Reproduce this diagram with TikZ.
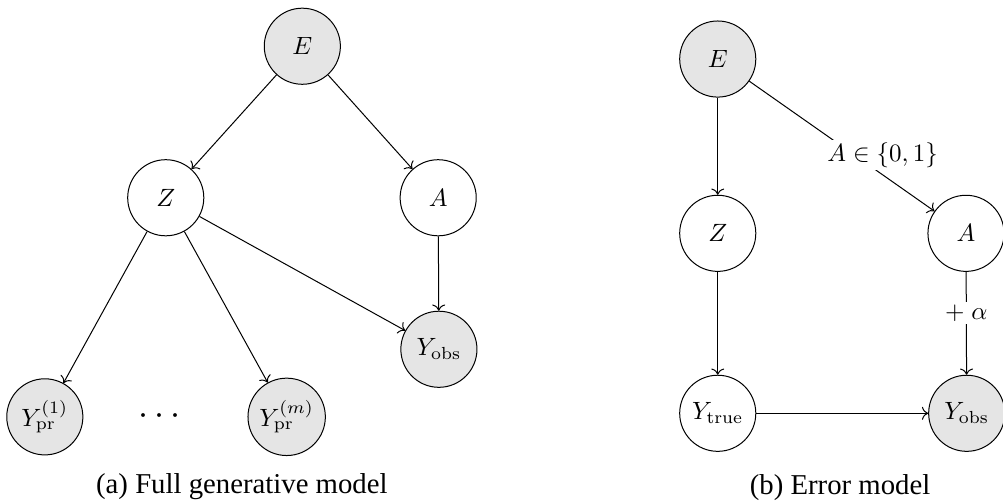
\documentclass[tikz,border=0pt]{standalone}
\usepackage{amsmath}
\usepackage{amssymb}
\usepackage[no-math]{fontspec}
\usepackage{tikz}
\usetikzlibrary{calc, arrows.meta, positioning}
\setmainfont{Liberation Serif}

\begin{document}
\begin{tikzpicture}[
        latent/.style={circle, draw, minimum size=1.07cm, inner sep=2pt},
        observed/.style={latent, fill=black!10},
        lbl/.style={fill=white, inner sep=1pt},
        caption/.style={font=\rmfamily\fontsize{11.5}{13}\selectfont}
    ]
        \useasboundingbox (0,0) rectangle (14.10,-7.07);

        % (a) Full generative model: nodes
        \node[observed] (E1) at (4.25,-0.65) {$E$};
        \node[latent] (Z1) at (2.33,-2.78) {$Z$};
        \node[latent] (A1) at (6.16,-2.78) {$A$};
        \node[observed] (Yobs1) at (6.17,-4.91) {$Y_{\mathrm{obs}}$};
        \node[observed] (Ypr1) at (0.63,-5.86) {$Y_{\mathrm{pr}}^{(1)}$};
        \node (dots) at (2.29,-5.85) {\Large$\cdots$};
        \node[observed] (Yprm) at (4.03,-5.86) {$Y_{\mathrm{pr}}^{(m)}$};

        % (a) edges
        \draw[->] (E1) -- (Z1);
        \draw[->] (E1) -- (A1);
        \draw[->] (Z1) -- (Ypr1);
        \draw[->] (Z1) -- (Yprm);
        \draw[->] (Z1) -- (Yobs1);
        \draw[->] (A1) -- (Yobs1);

        \node[caption] (capa) at (3.40,-6.84) {(a) Full generative model};

        % (b) Error model: nodes
        \node[observed] (E2) at (10.09,-0.83) {$E$};
        \node[latent] (Z2) at (10.09,-3.28) {$Z$};
        \node[latent] (A2) at (13.58,-3.28) {$A$};
        \node[latent] (Ytrue) at (10.09,-5.81) {$Y_{\mathrm{true}}$};
        \node[observed] (Yobs2) at (13.59,-5.81) {$Y_{\mathrm{obs}}$};

        % (b) edges
        \draw[->] (E2) -- (Z2);
        \draw[->] (E2) -- node[lbl, pos=0.57, xshift=0.39cm] {$A \in \{0,1\}$} (A2);
        \draw[->] (Z2) -- (Ytrue);
        \draw[->] (A2) -- node[lbl, pos=0.4] {$+\;\alpha$} (Yobs2);
        \draw[->] (Ytrue) -- (Yobs2);

        \node[caption] (capb) at (11.81,-6.86) {(b) Error model};
    \end{tikzpicture}
\end{document}
